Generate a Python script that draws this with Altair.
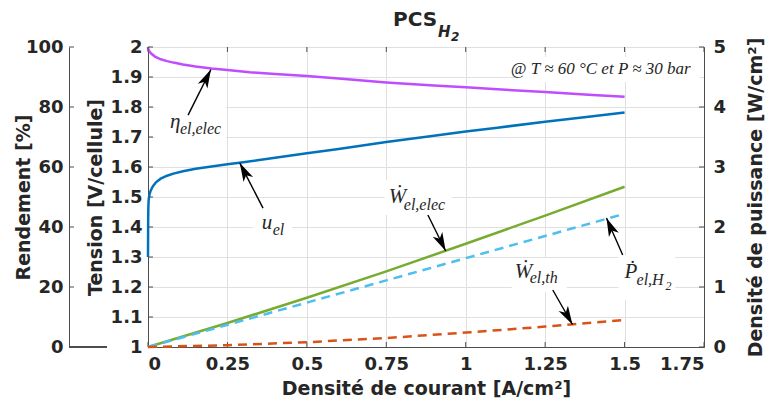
import math
import altair as alt
import pandas as pd

# ---------------- data ----------------
J_U = [0, 0.0005, 0.001, 0.002, 0.004, 0.008, 0.015, 0.025, 0.04, 0.06, 0.08, 0.11,
       0.15, 0.2, 0.25, 0.3, 0.4, 0.5, 0.6, 0.75, 0.9, 1.0, 1.1, 1.25, 1.4, 1.5]
U_EL = [1.30, 1.42, 1.46, 1.49, 1.505, 1.52, 1.535, 1.549, 1.561, 1.571, 1.578, 1.586,
        1.594, 1.602, 1.609, 1.616, 1.631, 1.646, 1.660, 1.683, 1.704, 1.718, 1.731, 1.751, 1.769, 1.782]

J_ETA = [0, 0.001, 0.004, 0.01, 0.022, 0.04, 0.06, 0.08, 0.11, 0.15, 0.2, 0.25, 0.32,
         0.4, 0.5, 0.6, 0.75, 0.9, 1.0, 1.1, 1.25, 1.4, 1.5]
ETA = [100, 99.3, 98.6, 97.8, 96.8, 95.9, 95.3, 94.8, 94.2, 93.5, 92.8, 92.3, 91.6,
       91.0, 90.3, 89.5, 88.2, 87.2, 86.6, 85.9, 85.0, 84.0, 83.4]

J_P = [0, 0.25, 0.5, 0.75, 1.0, 1.25, 1.5]
W_ELEC = [0, 0.40, 0.82, 1.26, 1.72, 2.19, 2.67]
P_H2 = [0, 0.37, 0.74, 1.11, 1.48, 1.85, 2.22]
W_TH = [0, 0.03, 0.08, 0.15, 0.24, 0.34, 0.45]

X_TICKS = [0, 0.25, 0.5, 0.75, 1, 1.25, 1.5, 1.75]
V_TICKS = [1, 1.1, 1.2, 1.3, 1.4, 1.5, 1.6, 1.7, 1.8, 1.9, 2]
R_TICKS = [0, 20, 40, 60, 80, 100]
P_TICKS = [0, 1, 2, 3, 4, 5]

# annotations: anchor (j, y), main glyph, subscript, box [j0, j1, y0, y1], arrow [j0, y0, j1, y1]
ANN_R = [dict(j=0.069, y=75.0, main="η", sub="el,elec", dx=10, dy=7,
              box=[0.022, 0.246, 69.0, 82.3], arrow=[0.126, 77.3, 0.198, 92.5])]
ANN_V = [dict(j=0.358, y=1.413, main="u", sub="el", dx=11, dy=7,
              box=[0.33, 0.453, 1.34, 1.473], arrow=[0.362, 1.463, 0.289, 1.613])]
ANN_P = [dict(j=0.758, y=2.5, main="Ẇ", sub="el,elec", dx=15, dy=8,
              box=[0.745, 0.956, 2.2, 2.783], arrow=[0.881, 2.2, 0.937, 1.6]),
         dict(j=1.154, y=1.25, main="Ẇ", sub="el,th", dx=15, dy=6,
              box=[1.145, 1.318, 0.917, 1.483], arrow=[1.274, 0.95, 1.336, 0.375]),
         dict(j=1.5, y=1.25, main="Ṗ", sub="el,H", dx=12, dy=8,
              box=[1.481, 1.66, 0.783, 1.533], arrow=[1.494, 1.533, 1.443, 2.15])]
NOTE = dict(j=1.708, y=4.633, text="@ T ≈ 60 °C et P ≈ 30 bar", box=[1.154, 1.736, 4.417, 4.833])

# ---------------- style ----------------
W, H = 556, 300
XMAX = 1.75
PPU_X = W / XMAX
SANS = "DejaVu Sans"
SERIF = "Liberation Serif, DejaVu Serif, serif"
TXT = "#262626"
FRAME = "#4d4d4d"
C_PURPLE = "#BF4DFF"
C_BLUE = "#0072BD"
C_GREEN = "#77AC30"
C_CYAN = "#4DBEEE"
C_ORANGE = "#D95319"
LW = 2.5
ARROW_PATH = "M0,0 L0.55,1.9 L0,1.4 L-0.55,1.9 Z"
LABEL_EXPR = "'' + datum.value"

XSCALE = alt.Scale(domain=[0, XMAX], nice=False, zero=False)
XAXIS = alt.Axis(values=X_TICKS, labelExpr=LABEL_EXPR, title="Densité de courant [A/cm²]",
                 grid=True, labelPadding=8, titlePadding=6)


def X(f):
    return alt.X(f"{f}:Q", scale=XSCALE, axis=XAXIS)


def make_y(domain, axis):
    sc = alt.Scale(domain=domain, nice=False, zero=False)

    def Y(f):
        return alt.Y(f"{f}:Q", scale=sc, axis=axis)
    return Y


Y_R = make_y([0, 100], alt.Axis(values=R_TICKS, labelExpr=LABEL_EXPR, title="Rendement [%]", orient="left",
                                offset=79, grid=False, labelPadding=6,
                                titleAngle=270, titleX=-46, titleY=H / 2, titleAlign="center",
                                titleBaseline="middle"))
Y_V = make_y([1, 2], alt.Axis(values=V_TICKS, labelExpr=LABEL_EXPR, title="Tension [V/cellule]", orient="left",
                              grid=True, labelPadding=6,
                              titleAngle=270, titleX=-53, titleY=H / 2, titleAlign="center",
                              titleBaseline="middle"))
Y_P = make_y([0, 5], alt.Axis(values=P_TICKS, labelExpr=LABEL_EXPR, title="Densité de puissance [W/cm²]",
                              orient="right", grid=False, labelPadding=9,
                              titleAngle=270, titleX=51, titleY=H / 2, titleAlign="center",
                              titleBaseline="middle"))


def annotations(ann_list, Y, ppu_y):
    layers = []
    for a in ann_list:
        b = a["box"]
        box_df = pd.DataFrame({"j0": [b[0]], "j1": [b[1]], "y0": [b[2]], "y1": [b[3]]})
        layers.append(alt.Chart(box_df).mark_rect(color="white").encode(
            x=X("j0"), x2=alt.X2("j1:Q"), y=Y("y0"), y2=alt.Y2("y1:Q")))
    for a in ann_list:
        t_df = pd.DataFrame({"j": [a["j"]], "y": [a["y"]], "main": [a["main"]], "sub": [a["sub"]]})
        layers.append(alt.Chart(t_df).mark_text(align="left", baseline="middle", font=SERIF,
                                                fontStyle="italic", fontSize=21, color=TXT).encode(
            x=X("j"), y=Y("y"), text="main:N"))
        layers.append(alt.Chart(t_df).mark_text(align="left", baseline="middle", font=SERIF,
                                                fontStyle="italic", fontSize=16, color=TXT,
                                                dx=a["dx"], dy=a["dy"]).encode(
            x=X("j"), y=Y("y"), text="sub:N"))
        ar = a["arrow"]
        dxp = (ar[2] - ar[0]) * PPU_X
        dyp = -(ar[3] - ar[1]) * ppu_y
        ang = math.degrees(math.atan2(dxp, -dyp)) % 360
        a_df = pd.DataFrame({"j0": [ar[0]], "y0": [ar[1]], "j1": [ar[2]], "y1": [ar[3]], "ang": [ang]})
        layers.append(alt.Chart(a_df).mark_rule(color="black", strokeWidth=1.4).encode(
            x=X("j0"), x2=alt.X2("j1:Q"), y=Y("y0"), y2=alt.Y2("y1:Q")))
        layers.append(alt.Chart(a_df).mark_point(shape=ARROW_PATH, filled=True, color="black",
                                                 size=380, opacity=1, strokeWidth=0).encode(
            x=X("j1"), y=Y("y1"), angle=alt.Angle("ang:Q", scale=None)))
    return layers


# ---------------- Rendement group ----------------
df_eta = pd.DataFrame({"j": J_ETA, "eta": ETA})
df_rt = pd.DataFrame({"t": R_TICKS})
ann_r = annotations(ANN_R, Y_R, H / 100)
g_r = alt.layer(
    ann_r[0],
    alt.Chart(df_eta).mark_line(color=C_PURPLE, strokeWidth=LW).encode(x=X("j"), y=Y_R("eta")),
    *ann_r[1:],
    alt.Chart(df_rt).mark_rule(color=FRAME, strokeWidth=1).encode(
        x=alt.value(-79), x2=alt.value(-74), y=Y_R("t")),
    alt.Chart(df_rt).mark_rule(color=FRAME, strokeWidth=1).encode(
        x=alt.value(-79), x2=alt.value(-41), y=alt.value(H)),
)

# ---------------- Tension group ----------------
df_u = pd.DataFrame({"j": J_U, "u": U_EL})
df_vt = pd.DataFrame({"t": V_TICKS})
df_xt = pd.DataFrame({"t": X_TICKS})
title_df = pd.DataFrame({"a": ["PCS"], "b": ["H"], "c": ["2"]})
ann_v = annotations(ANN_V, Y_V, H / 1)
g_v = alt.layer(
    ann_v[0],
    alt.Chart(df_u).mark_line(color=C_BLUE, strokeWidth=LW).encode(x=X("j"), y=Y_V("u")),
    *ann_v[1:],
    alt.Chart(df_vt).mark_rule(color=FRAME, strokeWidth=1).encode(
        x=alt.value(0), x2=alt.value(5), y=Y_V("t")),
    alt.Chart(df_xt).mark_rule(color=FRAME, strokeWidth=1).encode(
        x=X("t"), y=alt.value(H), y2=alt.value(H - 5)),
    alt.Chart(df_xt).mark_rule(color=FRAME, strokeWidth=1).encode(
        x=X("t"), y=alt.value(0), y2=alt.value(5)),
    alt.Chart(title_df).mark_text(align="left", baseline="middle", font=SANS, fontWeight="bold",
                                  fontSize=20, color=TXT).encode(
        x=alt.value(245), y=alt.value(-27), text="a:N"),
    alt.Chart(title_df).mark_text(align="left", baseline="middle", font=SANS, fontWeight="bold",
                                  fontStyle="italic", fontSize=15, color=TXT).encode(
        x=alt.value(290), y=alt.value(-15), text="b:N"),
    alt.Chart(title_df).mark_text(align="left", baseline="middle", font=SANS, fontWeight="bold",
                                  fontStyle="italic", fontSize=12, color=TXT).encode(
        x=alt.value(303), y=alt.value(-10), text="c:N"),
)

# ---------------- Power group ----------------
df_p = pd.DataFrame({"j": J_P, "we": W_ELEC, "ph": P_H2, "wt": W_TH})
df_pt = pd.DataFrame({"t": P_TICKS})
note_df = pd.DataFrame({"j": [NOTE["j"]], "y": [NOTE["y"]], "text": [NOTE["text"]],
                        "j0": [NOTE["box"][0]], "j1": [NOTE["box"][1]],
                        "y0": [NOTE["box"][2]], "y1": [NOTE["box"][3]]})
h2_df = pd.DataFrame({"j": [ANN_P[2]["j"]], "y": [ANN_P[2]["y"]], "t": ["2"]})
ann_p = annotations(ANN_P, Y_P, H / 5)
g_p = alt.layer(
    *ann_p[:3],
    alt.Chart(note_df).mark_rect(color="white").encode(
        x=X("j0"), x2=alt.X2("j1:Q"), y=Y_P("y0"), y2=alt.Y2("y1:Q")),
    alt.Chart(df_p).mark_line(color=C_GREEN, strokeWidth=LW).encode(x=X("j"), y=Y_P("we")),
    alt.Chart(df_p).mark_line(color=C_CYAN, strokeWidth=LW, strokeDash=[9, 6]).encode(x=X("j"), y=Y_P("ph")),
    alt.Chart(df_p).mark_line(color=C_ORANGE, strokeWidth=LW, strokeDash=[9, 6]).encode(x=X("j"), y=Y_P("wt")),
    *ann_p[3:],
    alt.Chart(h2_df).mark_text(align="left", baseline="middle", font=SERIF, fontStyle="italic",
                               fontSize=12, color=TXT, dx=41, dy=14).encode(
        x=X("j"), y=Y_P("y"), text="t:N"),
    alt.Chart(note_df).mark_text(align="right", baseline="middle", font=SERIF, fontStyle="italic",
                                 fontSize=17, color=TXT).encode(
        x=X("j"), y=Y_P("y"), text="text:N"),
    alt.Chart(df_pt).mark_rule(color=FRAME, strokeWidth=1).encode(
        x=alt.value(W - 5), x2=alt.value(W), y=Y_P("t")),
)

chart = alt.layer(g_r, g_v, g_p).resolve_scale(y="independent").resolve_axis(y="independent").properties(
    width=W, height=H,
    autosize=alt.AutoSizeParams(type="none"),
    padding={"left": 148, "top": 47, "right": 68, "bottom": 63},
    background="white",
).configure_view(stroke=FRAME, strokeWidth=1).configure_axis(
    labelFont=SANS, labelFontWeight="bold", labelFontSize=18, labelColor=TXT,
    titleFont=SANS, titleFontWeight="bold", titleFontSize=19, titleColor=TXT,
    domainColor=FRAME, gridColor="#e0e0e0", ticks=False,
)

chart.save("out.html", embed_options={"renderer": "svg", "actions": False})
